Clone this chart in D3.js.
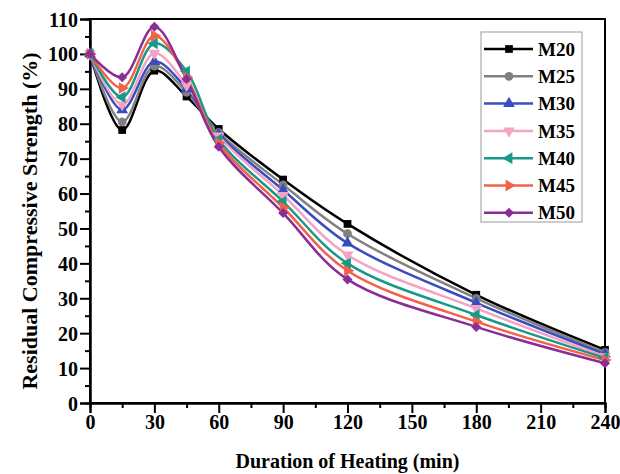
<!DOCTYPE html>
<html>
<head>
<meta charset="utf-8">
<script src="https://cdn.jsdelivr.net/npm/d3@7"></script>
<style>
  body { margin: 0; background: #fff; }
  text { font-family: "Liberation Serif", "Times New Roman", serif; font-weight: bold; }
</style>
</head>
<body>
<div id="chart"></div>
<script>
// heating duration (min)
const durations = [0, 15, 30, 45, 60, 90, 120, 180, 240];
const grades = ["M20", "M25", "M30", "M35", "M40", "M45", "M50"];

// residual compressive strength (%) for each grade
const m20 = [100, 78.2, 95.2, 87.8, 78.5, 64.0, 51.3, 31.0, 15.2];
const m25 = [100, 80.5, 96.5, 89.0, 77.5, 62.5, 48.5, 30.0, 14.5];
const m30 = [100, 84.0, 97.8, 90.0, 77.0, 61.0, 45.8, 28.7, 14.0];
const m35 = [100, 85.5, 100.2, 91.0, 76.5, 59.5, 42.4, 27.1, 13.3];
const m40 = [100, 87.6, 103.0, 95.0, 75.5, 57.7, 40.0, 25.2, 12.9];
const m45 = [100, 90.2, 105.2, 93.3, 74.5, 56.0, 37.9, 23.3, 12.3];
const m50 = [100, 93.3, 107.8, 92.8, 73.4, 54.4, 35.4, 21.8, 11.4];

const xTicks = [0, 30, 60, 90, 120, 150, 180, 210, 240];
const yTicks = [0, 10, 20, 30, 40, 50, 60, 70, 80, 90, 100, 110];

let width = 620;
let height = 474;
let margin = { top: 19, right: 15, bottom: 71, left: 90 };

let colors = ["#000000", "#808080", "#3b4cc0", "#f5a3c2", "#17998a", "#f26148", "#8b2d96"];
let series = [m20, m25, m30, m35, m40, m45, m50];

let svg = d3.select("#chart").append("svg")
  .attr("width", width)
  .attr("height", height);

let x = d3.scaleLinear()
  .domain([0, 240])
  .range([margin.left, width - margin.right]);

let y = d3.scaleLinear()
  .domain([0, 110])
  .range([height - margin.bottom, margin.top]);

// frame
svg.append("rect")
  .attr("x", x(0))
  .attr("y", y(110))
  .attr("width", x(240) - x(0))
  .attr("height", y(0) - y(110))
  .attr("fill", "none")
  .attr("stroke", "#000")
  .attr("stroke-width", 2);

// minor ticks
let xMinor = d3.axisBottom(x).tickValues(d3.range(15, 240, 30)).tickSize(5).tickFormat("");
let yMinor = d3.axisLeft(y).tickValues(d3.range(5, 110, 10)).tickSize(5).tickFormat("");

svg.append("g").attr("transform", `translate(0, ${y(0)})`).call(xMinor);
svg.append("g").attr("transform", `translate(${x(0)}, 0)`).call(yMinor);

let xAxis = d3.axisBottom(x).tickValues(xTicks).tickSize(10).tickPadding(2);
let yAxis = d3.axisLeft(y).tickValues(yTicks).tickSize(10).tickPadding(2);

let gx = svg.append("g")
  .attr("transform", `translate(0, ${y(0)})`)
  .call(xAxis);
let gy = svg.append("g")
  .attr("transform", `translate(${x(0)}, 0)`)
  .call(yAxis);

svg.selectAll(".domain").attr("stroke", "#000").attr("stroke-width", 2);
svg.selectAll(".tick line").attr("stroke", "#000").attr("stroke-width", 2);
gx.selectAll("text").attr("font-size", 20).attr("fill", "#000");
gy.selectAll("text").attr("font-size", 20).attr("fill", "#000").attr("dy", "0.35em");

svg.append("text")
  .attr("x", (x(0) + x(240)) / 2)
  .attr("y", 468)
  .attr("text-anchor", "middle")
  .attr("font-size", 20)
  .text("Duration of Heating (min)");

svg.append("text")
  .attr("transform", `translate(37, 221) rotate(-90)`)
  .attr("text-anchor", "middle")
  .attr("font-size", 22)
  .text("Residual Compressive Strength (%)");

let line = d3.line()
  .x(function (d, i) { return x(durations[i]); })
  .y(function (d) { return y(d); })
  .curve(d3.curveCatmullRom.alpha(0.5));

let symbols = [
  { type: d3.symbolSquare, size: 60, rot: 0 },
  { type: d3.symbolCircle, size: 60, rot: 0 },
  { type: d3.symbolTriangle, size: 60, rot: 0 },
  { type: d3.symbolTriangle, size: 60, rot: 180 },
  { type: d3.symbolTriangle, size: 60, rot: -90 },
  { type: d3.symbolTriangle, size: 60, rot: 90 },
  { type: d3.symbolSquare, size: 50, rot: 45 }
];

let plot = svg.append("g");

series.forEach(function (vals, k) {
  plot.append("path")
    .datum(vals)
    .attr("d", line)
    .attr("fill", "none")
    .attr("stroke", colors[k])
    .attr("stroke-width", 2.5);
});

series.forEach(function (vals, k) {
  let sym = d3.symbol().type(symbols[k].type).size(symbols[k].size);
  plot.selectAll(null)
    .data(vals)
    .enter()
    .append("path")
    .attr("d", sym)
    .attr("transform", function (d, i) {
      return `translate(${x(durations[i])}, ${y(d)}) rotate(${symbols[k].rot})`;
    })
    .attr("fill", colors[k]);
});

// legend
let legend = svg.append("g");
legend.append("rect")
  .attr("x", 481)
  .attr("y", 32)
  .attr("width", 101)
  .attr("height", 190)
  .attr("fill", "#fff")
  .attr("stroke", "#999")
  .attr("stroke-width", 1);

grades.forEach(function (name, k) {
  let ly = 49 + k * 27.3;
  legend.append("line")
    .attr("x1", 484).attr("x2", 533)
    .attr("y1", ly).attr("y2", ly)
    .attr("stroke", colors[k])
    .attr("stroke-width", 2.5);
  let sym = d3.symbol().type(symbols[k].type).size(symbols[k].size);
  legend.append("path")
    .attr("d", sym)
    .attr("transform", `translate(509, ${ly}) rotate(${symbols[k].rot})`)
    .attr("fill", colors[k]);
  legend.append("text")
    .attr("x", 538)
    .attr("y", ly)
    .attr("dy", "0.35em")
    .attr("font-size", 19)
    .text(name);
});
</script>
</body>
</html>
